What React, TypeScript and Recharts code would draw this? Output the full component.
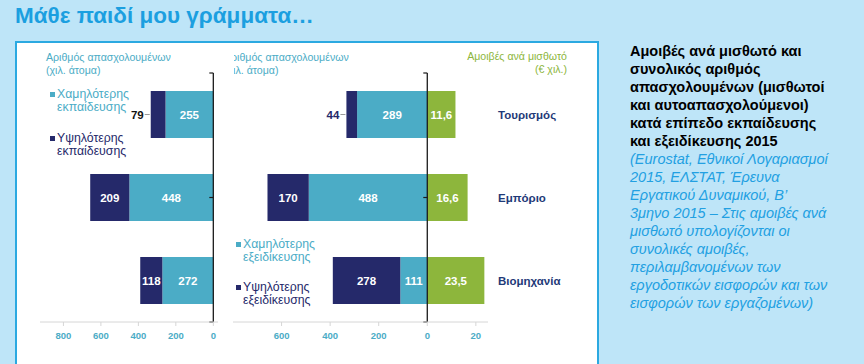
import React from 'react';
import { BarChart, Bar, XAxis, YAxis, ReferenceLine, LabelList } from 'recharts';

const categories = ['Τουρισμός', 'Εμπόριο', 'Βιομηχανία'];
// employees by education (thousand persons)
const lowerEdu = [255, 448, 272];
const higherEdu = [79, 209, 118];
// employees by specialisation (thousand persons)
const lowerSpec = [289, 488, 111];
const higherSpec = [44, 170, 278];
// pay per employee (€ thousand)
const salary = [11.6, 16.6, 23.5];

const eduTicks = [-800, -600, -400, -200, 0];
const specTicks = [-600, -400, -200, 0, 200];
// pay shares the right half of the second axis, drawn x10 (20 -> 200)
const PAY_SCALE = 10;

const LIGHT = '#4bacc6';
const NAVY = '#25296a';
const GREEN = '#8db63c';
const FONT = '"Liberation Sans", Arial, sans-serif';

const rowsEdu = categories.map((name, i) => ({
  name,
  low: -lowerEdu[i],
  high: -higherEdu[i],
  lowLbl: lowerEdu[i],
  highLbl: higherEdu[i],
}));

const rowsSpec = categories.map((name, i) => ({
  name,
  low: -lowerSpec[i],
  high: -higherSpec[i],
  pay: salary[i] * PAY_SCALE,
  lowLbl: lowerSpec[i],
  highLbl: higherSpec[i],
  payLbl: salary[i].toFixed(1).replace('.', ','),
}));

const barLabel = (outsideColor: string) => (props: any) => {
  const x = Number(props.x);
  const y = Number(props.y);
  const width = Number(props.width);
  const height = Number(props.height);
  const left = Math.min(x, x + width);
  const w = Math.abs(width);
  const cy = y + height / 2;
  if (w < 20) {
    return (
      <g>
        <line x1={left - 6} x2={left - 1} y1={cy} y2={cy} stroke="#9a9a9a" />
        <text x={left - 7} y={cy} dy="0.36em" textAnchor="end" fill={outsideColor} fontSize={11.5} fontWeight="bold">
          {props.value}
        </text>
      </g>
    );
  }
  return (
    <text x={left + w / 2} y={cy} dy="0.36em" textAnchor="middle" fill="#fff" fontSize={11.5} fontWeight="bold">
      {props.value}
    </text>
  );
};

const Legend2 = ({ x, y, color, lines }: { x: number; y: number; color: string; lines: string[] }) => (
  <div style={{ position: 'absolute', left: x, top: y, color, fontSize: 12.3, lineHeight: '13px', whiteSpace: 'nowrap' }}>
    <span style={{ position: 'absolute', left: 0, top: 4, width: 5, height: 5, background: color }} />
    <div style={{ paddingLeft: 7 }}>
      {lines[0]}
      <br />
      {lines[1]}
    </div>
  </div>
);

type ChartProps = {
  rows: any[];
  domain: [number, number];
  ticks: number[];
  fmt: (v: number) => string;
  left: number;
  width: number;
  plotWidth: number;
  margin: { top: number; right: number; bottom: number; left: number };
  withPay?: boolean;
  outsideColor: string;
};

const EmployeesChart = ({ rows, domain, ticks, fmt, left, width, plotWidth, margin, withPay, outsideColor }: ChartProps) => {
  const tickUnits = (4 * (domain[1] - domain[0])) / plotWidth;
  return (
    <div style={{ position: 'absolute', left, top: 60 }}>
      <BarChart width={width} height={290} data={rows} layout="vertical" stackOffset="sign" margin={margin}>
        <XAxis
          type="number"
          domain={domain}
          ticks={ticks}
          interval={0}
          allowDataOverflow
          tickFormatter={fmt}
          axisLine={{ stroke: '#d6d6d6' }}
          tickLine={{ stroke: '#d6d6d6' }}
          tickSize={4}
          tickMargin={6}
          height={20}
          tick={{ fill: LIGHT, fontSize: 9.5, fontWeight: 'bold' }}
        />
        {withPay ? (
          <YAxis
            type="category"
            dataKey="name"
            orientation="right"
            width={80}
            axisLine={false}
            tickLine={false}
            tickMargin={4}
            tick={{ fill: '#1f3a78', fontSize: 11.5, fontWeight: 'bold', textAnchor: 'start' }}
          />
        ) : (
          <YAxis type="category" dataKey="name" hide />
        )}
        <YAxis yAxisId="grid" type="number" domain={[0, 3]} hide />
        <Bar dataKey="low" stackId="s" fill={LIGHT} barSize={47} isAnimationActive={false}>
          <LabelList dataKey="lowLbl" content={barLabel(outsideColor)} />
        </Bar>
        <Bar dataKey="high" stackId="s" fill={NAVY} barSize={47} isAnimationActive={false}>
          <LabelList dataKey="highLbl" content={barLabel(outsideColor)} />
        </Bar>
        {withPay && (
          <Bar dataKey="pay" stackId="s" fill={GREEN} barSize={47} isAnimationActive={false}>
            <LabelList dataKey="payLbl" content={barLabel('#fff')} />
          </Bar>
        )}
        <ReferenceLine x={0} stroke="#1a1a1a" strokeWidth={1.3} />
        {[0, 1, 2, 3].map((b) => (
          <ReferenceLine
            key={b}
            yAxisId="grid"
            segment={[
              { x: -tickUnits, y: b },
              { x: 0, y: b },
            ]}
            stroke="#1a1a1a"
            strokeWidth={1.2}
          />
        ))}
      </BarChart>
    </div>
  );
};

const header = { fontSize: 10.6, lineHeight: '12.5px', color: LIGHT, whiteSpace: 'nowrap' as const };

export default function App() {
  return (
    <div
      style={{
        position: 'absolute',
        left: 0,
        top: 0,
        width: 864,
        height: 364,
        overflow: 'hidden',
        background: '#bee5f8',
        fontFamily: FONT,
      }}
    >
      <div style={{ position: 'absolute', left: 15, top: 3, fontSize: 22.5, fontWeight: 'bold', color: '#1b9fe0', whiteSpace: 'nowrap' }}>
        Μάθε παιδί μου γράμματα…
      </div>

      <div
        style={{
          position: 'absolute',
          left: 15,
          top: 41,
          width: 584,
          height: 340,
          boxSizing: 'border-box',
          background: '#fff',
          border: '2px solid #2ba9e1',
          borderBottom: 'none',
        }}
      />

      <div style={{ ...header, position: 'absolute', left: 46, top: 51 }}>
        Αριθμός απασχολουμένων
        <br />
        (χιλ. άτομα)
      </div>
      <div style={{ position: 'absolute', left: 234, top: 51, width: 150, height: 30, overflow: 'hidden' }}>
        <div style={{ ...header, position: 'absolute', left: -10, top: 0 }}>
          Αριθμός απασχολουμένων
          <br />
          (χιλ. άτομα)
        </div>
      </div>
      <div style={{ ...header, position: 'absolute', right: 864 - 567, top: 50, color: GREEN, textAlign: 'right' }}>
        Αμοιβές ανά μισθωτό
        <br />
        (€ χιλ.)
      </div>

      <EmployeesChart
        rows={rowsEdu}
        domain={[-925, 25]}
        ticks={eduTicks}
        fmt={(v) => String(Math.abs(v))}
        left={20}
        width={220}
        plotWidth={178}
        margin={{ top: 13, right: 22, bottom: 8, left: 20 }}
        outsideColor="#111"
      />
      <EmployeesChart
        rows={rowsSpec}
        domain={[-800, 250]}
        ticks={specTicks}
        fmt={(v) => (v > 0 ? String(v / PAY_SCALE) : String(Math.abs(v)))}
        left={220}
        width={350}
        plotWidth={255}
        margin={{ top: 13, right: 2, bottom: 8, left: 13 }}
        withPay
        outsideColor={NAVY}
      />

      <Legend2 x={50} y={88} color={LIGHT} lines={['Χαμηλότερης', 'εκπαίδευσης']} />
      <Legend2 x={50} y={132} color={NAVY} lines={['Υψηλότερης', 'εκπαίδευσης']} />
      <Legend2 x={236} y={238} color={LIGHT} lines={['Χαμηλότερης', 'εξειδίκευσης']} />
      <Legend2 x={236} y={281} color={NAVY} lines={['Υψηλότερης', 'εξειδίκευσης']} />

      <div style={{ position: 'absolute', left: 630, top: 42, fontSize: 14.5, lineHeight: '18px', whiteSpace: 'nowrap' }}>
        <div style={{ fontWeight: 'bold', color: '#000' }}>
          Αμοιβές ανά μισθωτό και
          <br />
          συνολικός αριθμός
          <br />
          απασχολουμένων (μισθωτοί
          <br />
          και αυτοαπασχολούμενοι)
          <br />
          κατά επίπεδο εκπαίδευσης
          <br />
          και εξειδίκευσης 2015
        </div>
        <div style={{ fontStyle: 'italic', color: '#22a0e2' }}>
          (Eurostat, Εθνικοί Λογαριασμοί
          <br />
          2015, ΕΛΣΤΑΤ, Έρευνα
          <br />
          Εργατικού Δυναμικού, Β’
          <br />
          3μηνο 2015 – Στις αμοιβές ανά
          <br />
          μισθωτό υπολογίζονται οι
          <br />
          συνολικές αμοιβές,
          <br />
          περιλαμβανομένων των
          <br />
          εργοδοτικών εισφορών και των
          <br />
          εισφορών των εργαζομένων)
        </div>
      </div>
    </div>
  );
}
